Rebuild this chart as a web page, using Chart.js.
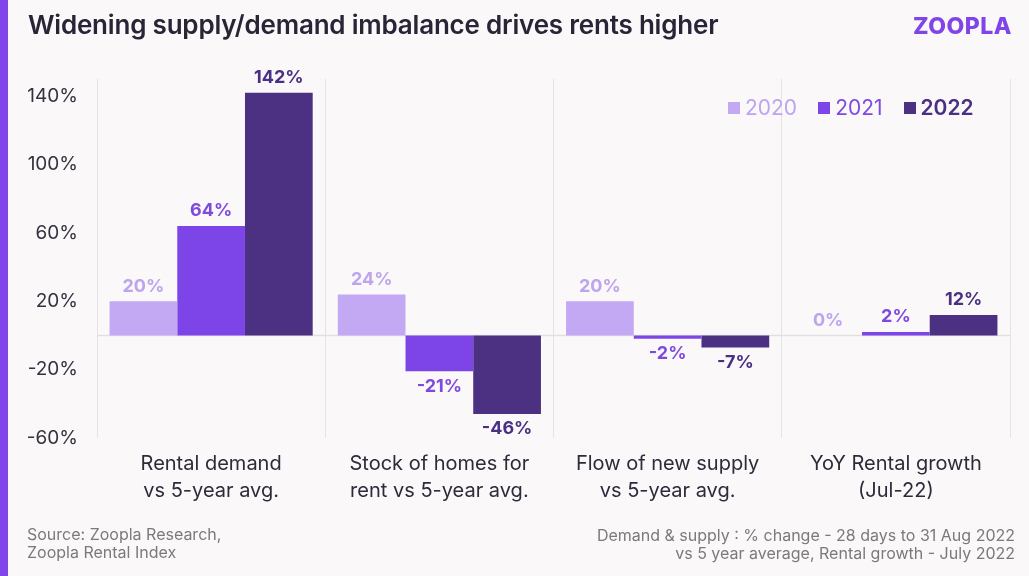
<!DOCTYPE html>
<html>
<head>
<meta charset="utf-8">
<script src="https://cdn.jsdelivr.net/npm/chart.js@4.4.0/dist/chart.umd.min.js"></script>
<style>
  body { margin: 0; background: #faf8f8; font-family: Inter, sans-serif; }
  #wrap { position: relative; width: 1029px; height: 576px; overflow: hidden; }
  #stripe { position: absolute; left: 0; top: 0; width: 8px; height: 576px; background: #8245ea; }
  #title { position: absolute; left: 28px; top: 9px; font-size: 26px; font-weight: 600; color: #2a2437; letter-spacing: -0.2px; }
  #logo { position: absolute; right: 17px; top: 12px; font-size: 23px; font-weight: 800; color: #8045e8; letter-spacing: 0.5px; }
  .foot { position: absolute; font-size: 16px; color: #7a7a7a; line-height: 18px; }
  #srcL { left: 27px; top: 525px; }
  #srcR { right: 14px; top: 526px; text-align: right; }
  #leyenda { position: absolute; left: 728px; top: 95px; display: flex; gap: 0; font-size: 21px; }
  #leyenda span.item { display: flex; align-items: center; margin-right: 21px; }
  #leyenda i { display: inline-block; width: 12px; height: 12px; margin-right: 5px; }
  canvas { position: absolute; left: 0; top: 0; }
</style>
</head>
<body>
<div id="wrap">
  <canvas id="grafico" width="1029" height="576"></canvas>
  <div id="stripe"></div>
  <div id="title">Widening supply/demand imbalance drives rents higher</div>
  <div id="logo">ZOOPLA</div>
  <div id="leyenda"></div>
  <div class="foot" id="srcL">Source: Zoopla Research,<br>Zoopla Rental Index</div>
  <div class="foot" id="srcR">Demand &amp; supply : % change - 28 days to 31 Aug 2022<br>vs 5 year average, Rental growth - July 2022</div>
</div>
<script>
// Datos
const categorias = [
  ['Rental demand', 'vs 5-year avg.'],
  ['Stock of homes for', 'rent vs 5-year avg.'],
  ['Flow of new supply', 'vs 5-year avg.'],
  ['YoY Rental growth', '(Jul-22)']
];
const series = ['2020', '2021', '2022'];
const serie2020 = [20, 24, 20, 0];
const serie2021 = [64, -21, -2, 2];
const serie2022 = [142, -46, -7, 12];
const ticksY = [-60, -20, 20, 60, 100, 140];

const colores = ['#c3a9f4', '#7d45e8', '#4c3182'];
const coloresTexto = ['#bea3ef', '#7f49e0', '#4a2f84'];

// Leyenda
const leyenda = document.getElementById('leyenda');
series.forEach((s, i) => {
  const item = document.createElement('span');
  item.className = 'item';
  item.innerHTML = '<i style="background:' + colores[i] + '"></i><span style="color:' + coloresTexto[i] +
    (i === 2 ? ';font-weight:600' : '') + '">' + s + '</span>';
  leyenda.appendChild(item);
});

// Linea del cero
const lineaCero = {
  id: 'lineaCero',
  beforeDatasetsDraw(chart) {
    const { ctx, chartArea, scales } = chart;
    const y = scales.y.getPixelForValue(0);
    ctx.save();
    ctx.strokeStyle = '#e2dfdf';
    ctx.lineWidth = 1.5;
    ctx.beginPath();
    ctx.moveTo(chartArea.left, y);
    ctx.lineTo(chartArea.right, y);
    ctx.stroke();
    ctx.restore();
  }
};

// Etiquetas de valores
const etiquetas = {
  id: 'etiquetas',
  afterDatasetsDraw(chart) {
    const { ctx, scales } = chart;
    const cero = scales.y.getPixelForValue(0);
    ctx.save();
    ctx.font = '700 18px Inter';
    ctx.textAlign = 'center';
    ctx.textBaseline = 'middle';
    chart.data.datasets.forEach((ds, i) => {
      const meta = chart.getDatasetMeta(i);
      meta.data.forEach((bar, j) => {
        const v = ds.data[j];
        ctx.fillStyle = coloresTexto[i];
        const y = v >= 0 ? Math.min(bar.y, cero) - 15 : bar.y + 15;
        ctx.fillText(v + '%', bar.x, y);
      });
    });
    ctx.restore();
  }
};

const ctx = document.getElementById('grafico');
new Chart(ctx, {
  type: 'bar',
  data: {
    labels: categorias,
    datasets: [
      { label: series[0], data: serie2020, backgroundColor: colores[0] },
      { label: series[1], data: serie2021, backgroundColor: colores[1] },
      { label: series[2], data: serie2022, backgroundColor: colores[2] }
    ]
  },
  options: {
    responsive: false,
    animation: false,
    datasets: { bar: { categoryPercentage: 0.89, barPercentage: 1.0 } },
    layout: { padding: { top: 79, right: 19, left: 0, bottom: 60 } },
    scales: {
      x: {
        grid: { display: true, offset: true, color: '#e6e3e3', drawTicks: false },
        border: { display: false },
        ticks: { color: '#2d2b3a', font: { family: 'Inter', size: 20, lineHeight: 1.35 }, padding: 12 }
      },
      y: {
        min: -60,
        max: 150,
        afterBuildTicks(scale) { scale.ticks = ticksY.map(v => ({ value: v })); },
        afterFit(scale) { scale.width = 97; },
        grid: { display: false, drawTicks: false },
        border: { display: false },
        ticks: {
          color: '#333340',
          font: { family: 'Inter', size: 19 },
          padding: 19,
          callback: v => v + '%'
        }
      }
    },
    plugins: {
      legend: { display: false },
      tooltip: { enabled: false }
    }
  },
  plugins: [lineaCero, etiquetas]
});
</script>
</body>
</html>
